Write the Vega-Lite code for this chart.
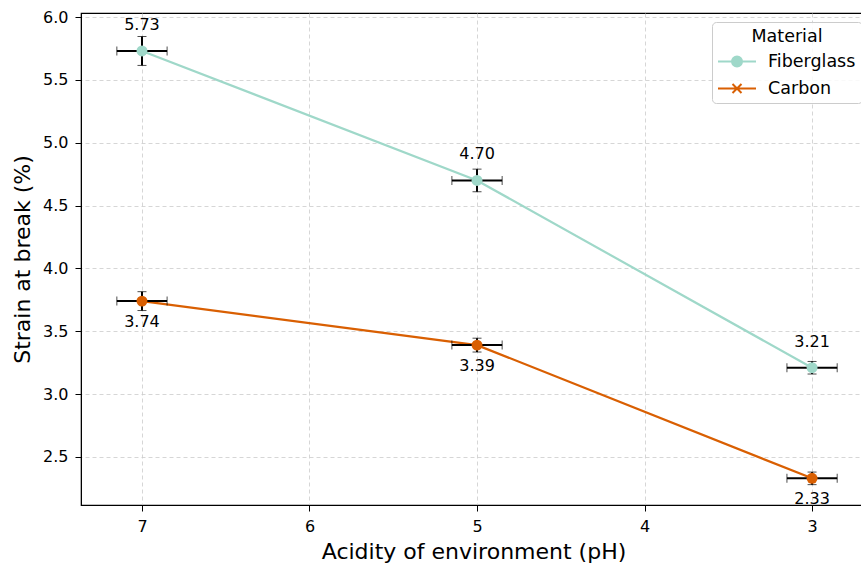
{
  "$schema": "https://vega.github.io/schema/vega-lite/v6.json",
  "autosize": {"type": "none"},
  "padding": {"left": 81, "top": 13, "right": 0, "bottom": 60},
  "width": 785,
  "height": 492,
  "background": "white",
  "config": {
    "font": "DejaVu Sans",
    "view": {"stroke": "black", "strokeWidth": 1.2},
    "axis": {
      "labelFont": "DejaVu Sans", "titleFont": "DejaVu Sans",
      "labelFontSize": 16, "titleFontSize": 22, "titleFontWeight": "normal",
      "labelColor": "black", "titleColor": "black",
      "domainColor": "black", "tickColor": "black", "tickSize": 6, "labelPadding": 7,
      "gridColor": "#cccccc", "gridDash": [4, 3], "gridWidth": 0.8
    }
  },
  "data": {"values": [
    {"pH": 7, "material": "Fiberglass", "strain": 5.73, "xerr": 0.15, "yerr": 0.115},
    {"pH": 5, "material": "Fiberglass", "strain": 4.70, "xerr": 0.15, "yerr": 0.09},
    {"pH": 3, "material": "Fiberglass", "strain": 3.21, "xerr": 0.15, "yerr": 0.05},
    {"pH": 7, "material": "Carbon", "strain": 3.74, "xerr": 0.15, "yerr": 0.075},
    {"pH": 5, "material": "Carbon", "strain": 3.39, "xerr": 0.15, "yerr": 0.055},
    {"pH": 3, "material": "Carbon", "strain": 2.33, "xerr": 0.15, "yerr": 0.05}
  ]},
  "encoding": {
    "x": {"field": "pH", "type": "quantitative",
      "scale": {"domain": [2.678, 7.364], "reverse": true, "nice": false, "zero": false},
      "axis": {"values": [3, 4, 5, 6, 7], "format": "d", "title": "Acidity of environment (pH)", "titlePadding": 7}},
    "y": {"field": "strain", "type": "quantitative",
      "scale": {"domain": [2.118, 6.032], "nice": false, "zero": false},
      "axis": {"values": [2.5, 3.0, 3.5, 4.0, 4.5, 5.0, 5.5, 6.0], "format": ".1f", "title": "Strain at break (%)", "titlePadding": 8}}
  },
  "layer": [
    {
      "mark": {"type": "line", "strokeWidth": 2.2},
      "encoding": {
        "color": {"field": "material", "type": "nominal",
          "scale": {"domain": ["Fiberglass", "Carbon"], "range": ["#9fd8c9", "#d95f02"]},
          "legend": {
            "title": "Material", "orient": "none", "legendX": 631, "legendY": 9,
            "titleFontSize": 17.5, "titleFontWeight": "normal", "titleAnchor": "middle", "titleAlign": "center",
            "titlePadding": 5,
            "labelFontSize": 17.5, "labelColor": "black", "titleColor": "black",
            "symbolSize": 400, "symbolOpacity": 1, "symbolStrokeWidth": 2, "symbolOffset": 8,
            "labelOffset": 20, "rowPadding": 7,
            "padding": 6, "strokeColor": "#cccccc", "fillColor": "rgba(255,255,255,0.85)", "cornerRadius": 4,
            "encode": {"symbols": {"update": {
              "shape": {"signal": "datum.value === 'Fiberglass' ? 'M-1.9,0H-0.5M0.5,0H1.9M-0.5,0A0.5,0.5 0 1,1 0.5,0A0.5,0.5 0 1,1 -0.5,0Z' : 'M-1.9,0H1.9M-0.45,-0.45L0.45,0.45M-0.45,0.45L0.45,-0.45'"},
              "stroke": {"scale": "color", "field": "value"},
              "fill": {"scale": "color", "field": "value"},
              "strokeWidth": {"value": 2}, "opacity": {"value": 1}}}}
          }}
      }
    },
    {
      "mark": {"type": "errorbar", "ticks": {"size": 9, "color": "black", "strokeWidth": 2}, "rule": {"color": "black", "strokeWidth": 2}},
      "encoding": {
        "xError": {"field": "xerr"}
      }
    },
    {
      "mark": {"type": "errorbar", "ticks": {"size": 9, "color": "black", "strokeWidth": 2}, "rule": {"color": "black", "strokeWidth": 2}},
      "encoding": {
        "yError": {"field": "yerr"}
      }
    },
    {
      "mark": {"type": "point", "filled": true, "size": 120, "opacity": 1},
      "encoding": {
        "color": {"field": "material", "type": "nominal"}
      }
    },
    {
      "transform": [{"filter": "datum.material === 'Fiberglass'"}],
      "mark": {"type": "text", "fontSize": 16, "dy": -26, "color": "black"},
      "encoding": {"text": {"field": "strain", "type": "quantitative", "format": ".2f"}}
    },
    {
      "transform": [{"filter": "datum.material === 'Carbon'"}],
      "mark": {"type": "text", "fontSize": 16, "dy": 21, "color": "black"},
      "encoding": {"text": {"field": "strain", "type": "quantitative", "format": ".2f"}}
    }
  ]
}
